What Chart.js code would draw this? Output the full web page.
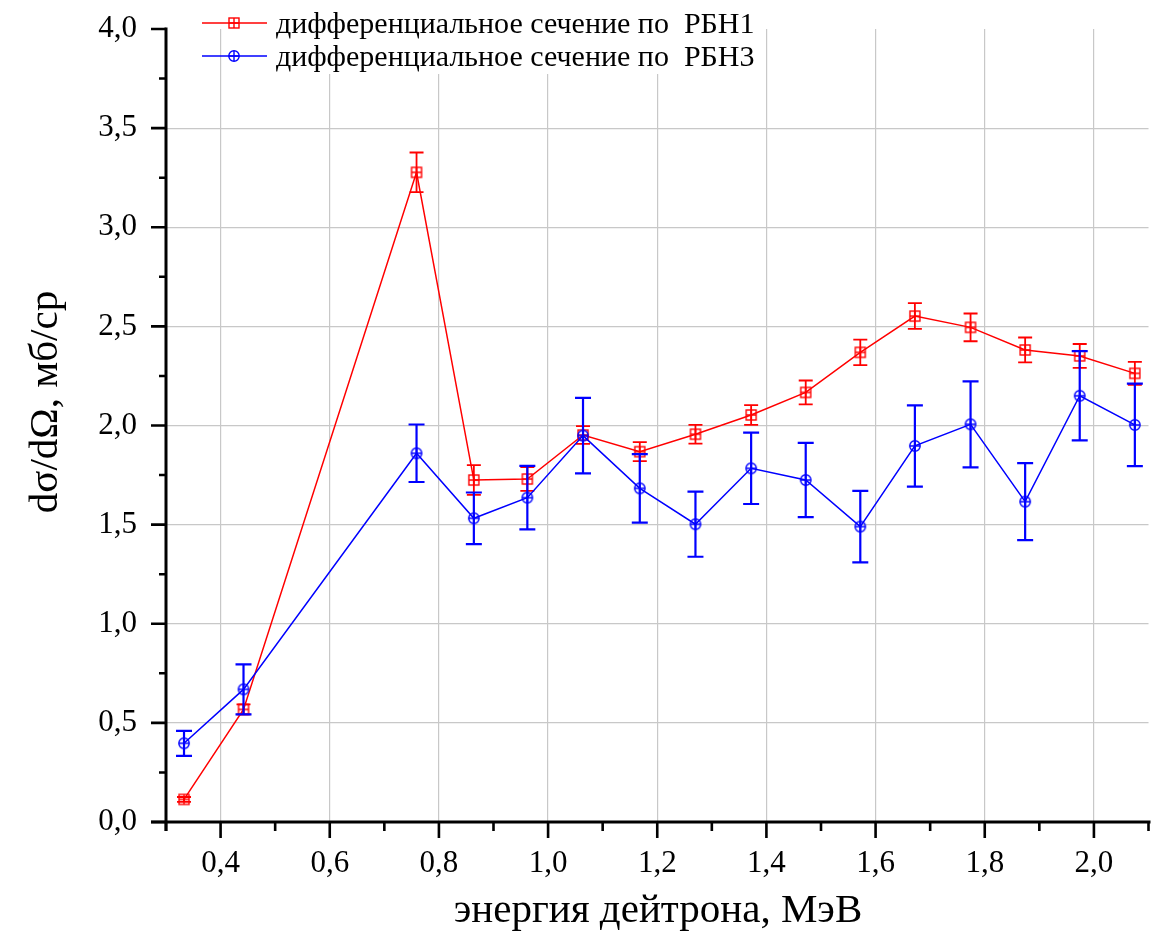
<!DOCTYPE html>
<html><head><meta charset="utf-8">
<script src="https://cdn.jsdelivr.net/npm/chart.js@4.4.0/dist/chart.umd.min.js"></script>
<style>html,body{margin:0;padding:0;background:#fff;}#wrap{position:relative;width:1157px;height:940px;}</style>
</head><body><div id="wrap"><canvas id="c" width="1157" height="940"></canvas></div>
<script>
// ---- data ----
const energy = [0.333, 0.442, 0.759, 0.864, 0.962, 1.064, 1.168, 1.270, 1.372, 1.472, 1.572, 1.672, 1.774, 1.874, 1.974, 2.075];
const rbn1 = [0.114, 0.568, 3.277, 1.725, 1.730, 1.952, 1.868, 1.956, 2.053, 2.167, 2.369, 2.552, 2.495, 2.381, 2.351, 2.263];
const rbn1Err = [0.012, 0.025, 0.100, 0.075, 0.060, 0.045, 0.048, 0.047, 0.050, 0.060, 0.064, 0.065, 0.070, 0.063, 0.060, 0.058];
const rbn3 = [0.397, 0.669, 1.860, 1.532, 1.636, 1.949, 1.683, 1.502, 1.784, 1.725, 1.490, 1.897, 2.006, 1.616, 2.150, 2.003];
const rbn3Err = [0.063, 0.126, 0.145, 0.130, 0.160, 0.190, 0.173, 0.164, 0.180, 0.187, 0.180, 0.205, 0.217, 0.194, 0.225, 0.208];
const xTickValues = [0.4, 0.6, 0.8, 1.0, 1.2, 1.4, 1.6, 1.8, 2.0];
const xMinorValues = [0.3, 0.5, 0.7, 0.9, 1.1, 1.3, 1.5, 1.7, 1.9, 2.1];
const yTickValues = [0, 0.5, 1.0, 1.5, 2.0, 2.5, 3.0, 3.5, 4.0];
const yMinorValues = [0.25, 0.75, 1.25, 1.75, 2.25, 2.75, 3.25, 3.75];
const seriesNames = ['дифференциальное сечение по  РБН1', 'дифференциальное сечение по  РБН3'];
const xTitle = 'энергия дейтрона, МэВ';
const yTitle = 'dσ/dΩ, мб/ср';

const FONT = '"Liberation Serif", "Times New Roman", serif';
const RED = '#ff0000', BLUE = '#0000ff';
const fmt = v => Number(v).toFixed(1).replace('.', ',');

function makeMarker(color, kind) {
  const s = 14, c = document.createElement('canvas');
  c.width = s; c.height = s;
  const g = c.getContext('2d');
  g.strokeStyle = color; g.lineWidth = 1.4;
  if (kind === 'square') { g.strokeRect(2, 2, 10, 10); }
  else { g.beginPath(); g.arc(7, 7, 5.2, 0, Math.PI * 2); g.stroke(); }
  g.beginPath(); g.moveTo(2, 7); g.lineTo(12, 7); g.moveTo(7, 2); g.lineTo(7, 12); g.stroke();
  return c;
}
const redMarker = makeMarker(RED, 'square');
const blueMarker = makeMarker(BLUE, 'circle');

const errorBars = {
  id: 'errorBars',
  afterDatasetDraw(chart, args) {
    const ds = chart.data.datasets[args.index];
    if (!ds.errors) return;
    const {ctx, scales: {x, y}} = chart;
    ctx.save();
    ctx.strokeStyle = ds.borderColor; ctx.lineWidth = ds.errWidth;
    ds.data.forEach((p, i) => {
      const px = x.getPixelForValue(p.x);
      const yt = y.getPixelForValue(p.y + ds.errors[i]);
      const yb = y.getPixelForValue(p.y - ds.errors[i]);
      const h = ds.capWidth / 2;
      ctx.beginPath();
      ctx.moveTo(px, yt); ctx.lineTo(px, yb);
      ctx.moveTo(px - h, yt); ctx.lineTo(px + h, yt);
      ctx.moveTo(px - h, yb); ctx.lineTo(px + h, yb);
      ctx.stroke();
    });
    ctx.restore();
  }
};

const axesPlugin = {
  id: 'axesPlugin',
  beforeDatasetsDraw(chart) {
    const {ctx, scales: {x, y}} = chart;
    const x0 = x.getPixelForValue(0.3), x1 = x.getPixelForValue(2.1);
    const y0 = y.getPixelForValue(0), y1 = y.getPixelForValue(4);
    ctx.save();
    ctx.strokeStyle = '#000'; ctx.lineWidth = 3; ctx.lineCap = 'butt';
    ctx.beginPath();
    ctx.moveTo(x0 - 15, y0); ctx.lineTo(x1 + 2, y0);
    ctx.moveTo(x0, y1 - 1.5); ctx.lineTo(x0, y0 + 9);
    ctx.stroke();
    ctx.lineWidth = 2.6;
    ctx.beginPath();
    xTickValues.forEach(v => { const p = x.getPixelForValue(v); ctx.moveTo(p, y0); ctx.lineTo(p, y0 + 16); });
    xMinorValues.forEach(v => { const p = x.getPixelForValue(v); ctx.moveTo(p, y0); ctx.lineTo(p, y0 + 9); });
    yTickValues.forEach(v => { const p = y.getPixelForValue(v); ctx.moveTo(x0, p); ctx.lineTo(x0 - 15, p); });
    yMinorValues.forEach(v => { const p = y.getPixelForValue(v); ctx.moveTo(x0, p); ctx.lineTo(x0 - 7, p); });
    ctx.stroke();
    ctx.restore();
  },
  afterDraw(chart) {
    const {ctx} = chart;
    ctx.save();
    // axis titles
    ctx.fillStyle = '#000';
    ctx.font = '41px ' + FONT;
    ctx.textAlign = 'center'; ctx.textBaseline = 'middle';
    ctx.fillText(xTitle, 658, 911);
    ctx.save();
    ctx.translate(46, 402); ctx.rotate(-Math.PI / 2);
    ctx.fillText(yTitle, 0, 0);
    ctx.restore();
    // legend
    ctx.fillStyle = '#fff';
    ctx.fillRect(270, 0, 490, 74);
    const rows = [{y: 23, c: RED, m: redMarker, t: seriesNames[0]}, {y: 56, c: BLUE, m: blueMarker, t: seriesNames[1]}];
    rows.forEach(r => {
      ctx.strokeStyle = r.c; ctx.lineWidth = 1.5;
      ctx.beginPath(); ctx.moveTo(202, r.y); ctx.lineTo(267, r.y); ctx.stroke();
      ctx.drawImage(r.m, 234 - 7, r.y - 7);
      ctx.fillStyle = '#000';
      ctx.font = '30px ' + FONT;
      ctx.textAlign = 'left'; ctx.textBaseline = 'alphabetic';
      ctx.fillText(r.t, 276, r.y + 10);
    });
    ctx.restore();
  }
};

new Chart(document.getElementById('c').getContext('2d'), {
  type: 'line',
  data: {
    datasets: [
      {label: seriesNames[0], data: energy.map((v, i) => ({x: v, y: rbn1[i]})), borderColor: RED, backgroundColor: RED,
       borderWidth: 1.5, pointStyle: redMarker, pointRadius: 7, order: 1, errors: rbn1Err, capWidth: 14, errWidth: 1.8, tension: 0},
      {label: seriesNames[1], data: energy.map((v, i) => ({x: v, y: rbn3[i]})), borderColor: BLUE, backgroundColor: BLUE,
       borderWidth: 1.5, pointStyle: blueMarker, pointRadius: 7, order: 0, errors: rbn3Err, capWidth: 16, errWidth: 2.2, tension: 0}
    ]
  },
  options: {
    responsive: false, animation: false, devicePixelRatio: 1,
    layout: {padding: {top: 29, right: 1, left: 0, bottom: 0}},
    plugins: {legend: {display: false}, tooltip: {enabled: false}},
    scales: {
      x: {
        type: 'linear', min: 0.3, max: 2.1,
        afterFit(s) { s.height = 118; s.paddingLeft = 0; s.paddingRight = 0; },
        afterBuildTicks(s) { s.ticks = xTickValues.map(v => ({value: v})); },
        grid: {color: '#c8c8c8', lineWidth: 1.2, drawTicks: false},
        border: {display: false},
        ticks: {padding: 23, color: '#000', maxRotation: 0, autoSkip: false, font: {family: FONT, size: 31}, callback: v => fmt(v)}
      },
      y: {
        type: 'linear', min: 0, max: 4,
        afterFit(s) { s.width = 166; s.paddingTop = 0; s.paddingBottom = 0; },
        afterBuildTicks(s) { s.ticks = yTickValues.map(v => ({value: v})); },
        grid: {color: c => (c.tick && (c.tick.value === 0 || c.tick.value === 4)) ? 'rgba(0,0,0,0)' : '#c8c8c8', lineWidth: 1.2, drawTicks: false},
        border: {display: false},
        ticks: {padding: 29, color: '#000', autoSkip: false, font: {family: FONT, size: 31}, callback: v => fmt(v)}
      }
    }
  },
  plugins: [errorBars, axesPlugin]
});
</script></body></html>
